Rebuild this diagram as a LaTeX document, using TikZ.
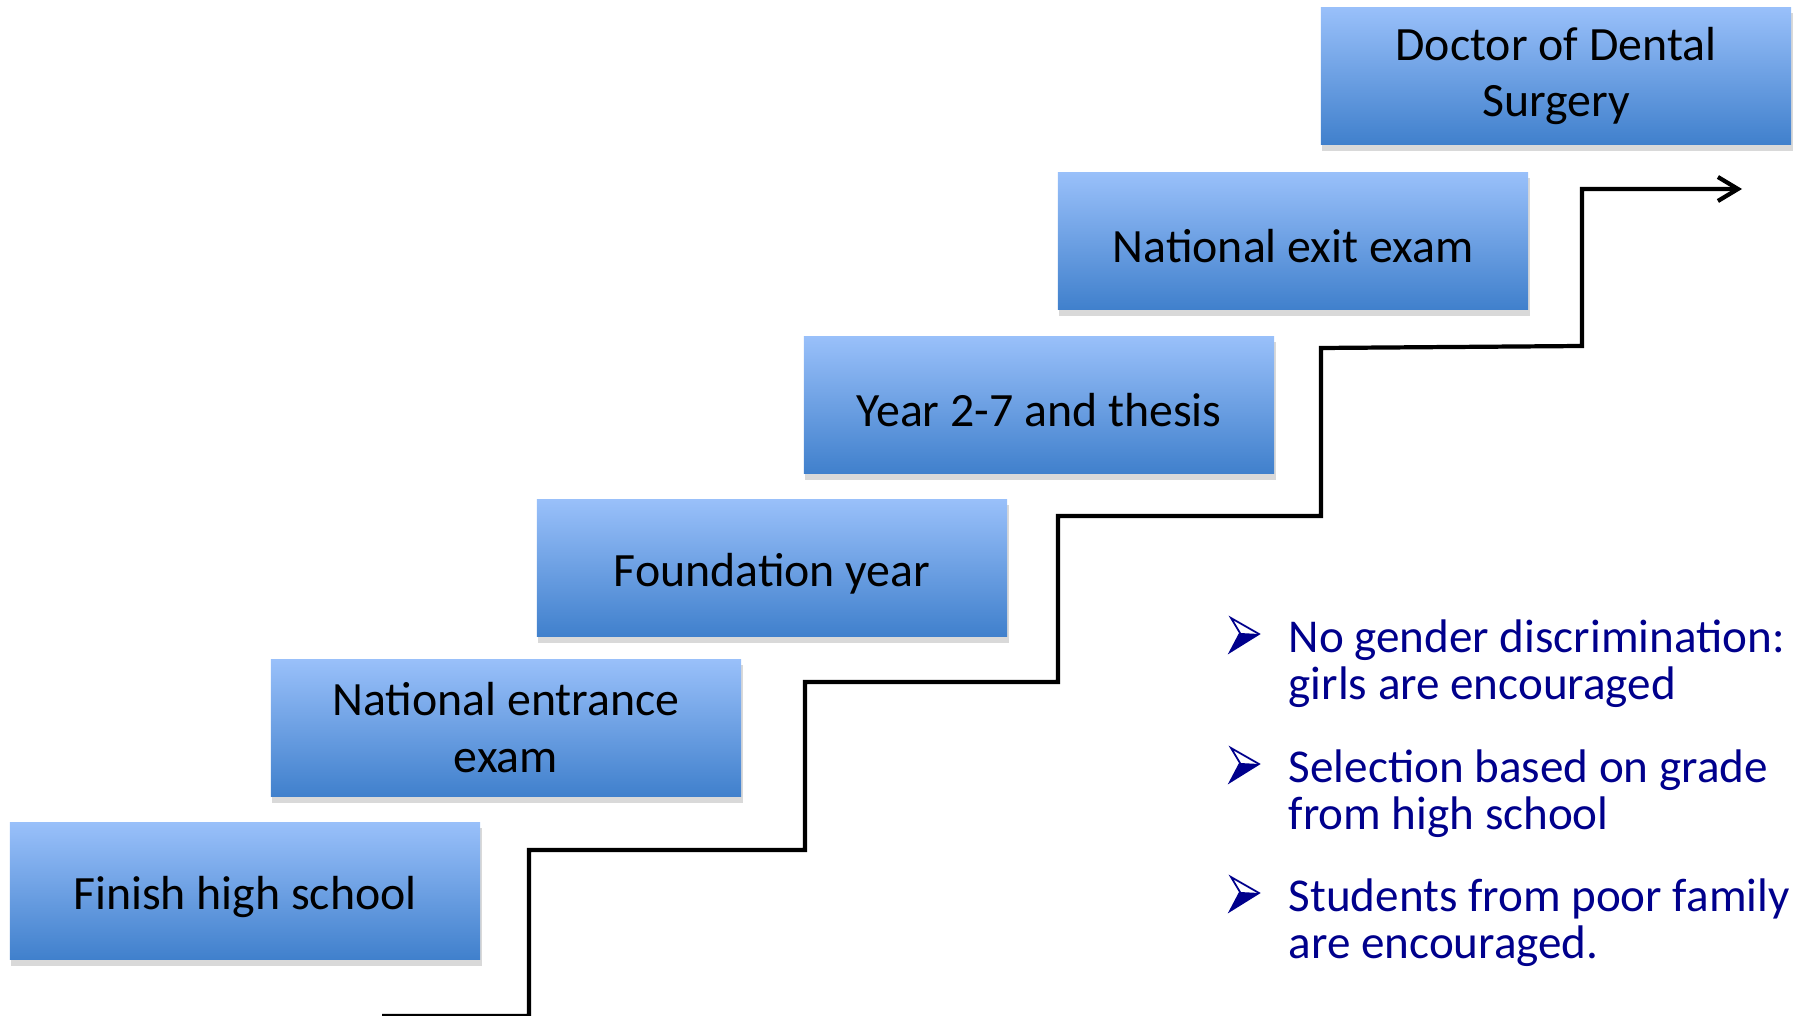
\documentclass[tikz,border=0pt]{standalone}
\usepackage{fontspec}
\setmainfont{Carlito}
\usetikzlibrary{shadows,arrows.meta}

\definecolor{boxtop}{RGB}{153,192,250}
\definecolor{boxbot}{RGB}{64,128,204}
\definecolor{notenavy}{RGB}{0,0,140}

% arrowhead bullet, centred on a named coordinate
\newcommand{\notemark}[1]{%
  \fill[notenavy, shift = {(#1)}] (-4,-2) -- (15,-1) -- (-14,17) -- cycle;
  \draw[notenavy, line width = 0.5pt, line join = miter, shift = {(#1)}]
    (-13,-17) -- (15,-1) -- (-14,17) -- (-4,-2) -- cycle;}

\tikzset{
  stepbox/.style = {rectangle, minimum width = 4.7cm, minimum height = 1.37cm,
    top color = boxtop, bottom color = boxbot, align = center, text = black,
    font = \fontsize{13.6}{16.2}\selectfont,
    execute at begin node = {\rule{0pt}{12.6pt}},
    drop shadow = {shadow xshift = 0.15mm, shadow yshift = -0.6mm, opacity = 0.3}},
  stair/.style = {line width = 1.2pt},
  note/.style = {anchor = base west, inner sep = 0pt, align = left, text = notenavy,
    font = \fontsize{13.4}{13.1}\selectfont}
}

\begin{document}
\begin{tikzpicture}[x = 0.01cm, y = -0.01cm]

\useasboundingbox (0,0) rectangle (1810,1016);

\node[stepbox] (b1) at (245,891) {Finish high school};
\node[stepbox] (b2) at (506,728) {National entrance\\exam};
\node[stepbox] (b3) at (772,568) {Foundation year};
\node[stepbox] (b4) at (1039,405) {Year 2-7 and thesis};
\node[stepbox] (b5) at (1293,241) {National exit exam};
\node[stepbox] (b6) at (1556,76) {Doctor of Dental\\Surgery};

\coordinate (s0) at (382,1016);
\coordinate (s1) at (529,1016);
\coordinate (s2) at (529,850);
\coordinate (s3) at (805,850);
\coordinate (s4) at (805,682);
\coordinate (s5) at (1058,682);
\coordinate (s6) at (1058,516);
\coordinate (s7) at (1321,516);
\coordinate (s8) at (1321,348);
\coordinate (s9) at (1582,346);
\coordinate (s10) at (1582,189);
\coordinate (s11) at (1742,189);

\draw [stair, -{Straight Barb[length = 2mm, width = 2.4mm]}]
  (s0) -- (s1) -- (s2) -- (s3) -- (s4) -- (s5) -- (s6) -- (s7) -- (s8) -- (s9) -- (s10) -- (s11);

\coordinate (m1) at (1244,635);
\coordinate (m2) at (1244,765);
\coordinate (m3) at (1244,894);
\notemark{m1}
\notemark{m2}
\notemark{m3}

\node[note] (n1) at (1288,699) {No gender discrimination:\\girls are encouraged};
\node[note] (n2) at (1288,829) {Selection based on grade\\from high school};
\node[note] (n3) at (1288,958) {Students from poor family\\are encouraged.};

\end{tikzpicture}
\end{document}
